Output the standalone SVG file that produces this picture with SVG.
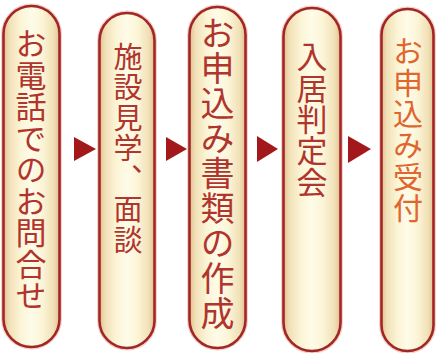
<svg xmlns="http://www.w3.org/2000/svg" width="436" height="353" viewBox="0 0 436 353">
<defs>
<linearGradient id="fillg" x1="0" y1="0" x2="1" y2="0">
<stop offset="0" stop-color="#dfbf92"/>
<stop offset="0.1" stop-color="#f1e0b6"/>
<stop offset="0.3" stop-color="#fbf4d6"/>
<stop offset="0.5" stop-color="#fefbe8"/>
<stop offset="0.7" stop-color="#fbf4d6"/>
<stop offset="0.9" stop-color="#f1e0b6"/>
<stop offset="1" stop-color="#dfbf92"/>
</linearGradient>
<style>
.glow{fill:none;stroke:#e9b4a6;stroke-width:5;opacity:0.6}
.pill{fill:url(#fillg);stroke:#a32626;stroke-width:2.6}
.t{font-family:"Noto Sans CJK JP","Noto Sans CJK SC",sans-serif;writing-mode:vertical-rl;fill:#b0352c}
.t5{fill:#e0652e}
.arr{fill:#a3191b}
</style>
</defs>
<rect width="436" height="353" fill="#ffffff"/>
<g id="node1">
<rect class="glow" x="3.5" y="6" width="56" height="341" rx="28"/>
<rect class="pill" x="3.5" y="6" width="56" height="341" rx="28"/>
<text class="t" x="31" y="28" font-size="31" letter-spacing="0.5">お電話でのお問合せ</text>
</g>
<g id="node2">
<rect class="glow" x="99.5" y="13" width="55" height="335" rx="27.5"/>
<rect class="pill" x="99.5" y="13" width="55" height="335" rx="27.5"/>
<text class="t" x="128" y="42" font-size="29" letter-spacing="1.5">施設見学、面談</text>
</g>
<g id="node3">
<rect class="glow" x="189.5" y="7" width="56" height="341" rx="28"/>
<rect class="pill" x="189.5" y="7" width="56" height="341" rx="28"/>
<text class="t" x="217.5" y="16" font-size="34" letter-spacing="1">お申込み書類の作成</text>
</g>
<g id="node4">
<rect class="glow" x="283.5" y="8" width="57" height="343" rx="28.5"/>
<rect class="pill" x="283.5" y="8" width="57" height="343" rx="28.5"/>
<text class="t" x="312" y="41" font-size="31" letter-spacing="0.4">入居判定会</text>
</g>
<g id="node5">
<rect class="glow" x="381.5" y="9" width="52" height="342" rx="26"/>
<rect class="pill" x="381.5" y="9" width="52" height="342" rx="26"/>
<text class="t t5" x="408" y="36" font-size="30" letter-spacing="1.3">お申込み受付</text>
</g>
<g id="connectors">
<polygon class="arr" points="74,137 96,149 74,161"/>
<polygon class="arr" points="166,137 187,149 166,161"/>
<polygon class="arr" points="257,136 278,149 257,162"/>
<polygon class="arr" points="348,136 371,149 348,163"/>
</g>
</svg>
